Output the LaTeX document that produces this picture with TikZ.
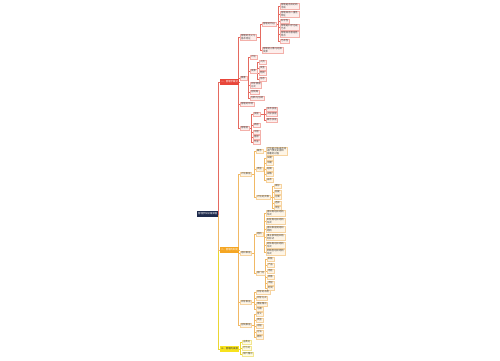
\documentclass[tikz,border=0pt]{standalone}
\usepackage{fontspec}
\setmainfont{Noto Sans CJK SC}
\usepackage{tikz}
\usetikzlibrary{calc}
\pgfdeclarelayer{background}
\pgfsetlayers{background,main}

\definecolor{navy}{HTML}{1E2B4D}
\definecolor{redmain}{HTML}{E8463A}
\definecolor{redline}{HTML}{E56A60}
\definecolor{redfill}{HTML}{FDEEEC}
\definecolor{rededge}{HTML}{F3B0AA}
\definecolor{orgmain}{HTML}{F5A623}
\definecolor{orgline}{HTML}{F1B965}
\definecolor{orgfill}{HTML}{FEF5E6}
\definecolor{orgedge}{HTML}{F6D3A0}
\definecolor{ylwmain}{HTML}{F7E21E}
\definecolor{ylwline}{HTML}{EBD634}
\definecolor{ylwfill}{HTML}{FFFCE3}
\definecolor{ylwedge}{HTML}{F2E690}

\tikzstyle{box}     = [anchor=west, inner xsep=0.9pt, inner ysep=0.5pt, minimum height=4.6pt,
                       align=left, font=\fontsize{2.4pt}{2.7pt}\selectfont, text=black!75]
\tikzstyle{rootbox} = [box, fill=navy, text=white, minimum height=6pt]
\tikzstyle{redbox}  = [box, fill=redmain, text=white, minimum height=5.5pt]
\tikzstyle{orgbox}  = [box, fill=orgmain, text=white, minimum height=5.5pt]
\tikzstyle{ylwbox}  = [box, fill=ylwmain, text=black!80, minimum height=5.5pt]
\tikzstyle{redleaf} = [box, draw=rededge, fill=redfill, line width=0.3pt]
\tikzstyle{orgleaf} = [box, draw=orgedge, fill=orgfill, line width=0.3pt]
\tikzstyle{ylwleaf} = [box, draw=ylwedge, fill=ylwfill, line width=0.3pt]
\tikzstyle{redlink} = [draw=redline, line width=0.4pt]
\tikzstyle{orglink} = [draw=orgline, line width=0.4pt]
\tikzstyle{ylwlink} = [draw=ylwline, line width=0.4pt]

% elbow from parent to child, kept behind the boxes
\newcommand{\branchlink}[3]{%
  \begin{pgfonlayer}{background}
    \draw[#1] (#2.east) -| ([xshift=-1.5pt]#3.west) -- (#3.west);
  \end{pgfonlayer}}

\begin{document}
\begin{tikzpicture}[x=1pt, y=-1pt]
  \useasboundingbox (0,0) rectangle (500,360);

  % centre
  \node[rootbox] (root) at (197,214) {管理学知识框架图};

  % third branch
  \node[ylwbox] (three) at (220,349) {三、管理的发展};
  \branchlink{ylwlink}{root}{three}
  \foreach \y/\t [count=\i] in {342/古典论, 348/行为论, 354/现代理论} {
    \node[ylwleaf] (three\i) at (242,\y) {\t};
    \branchlink{ylwlink}{three}{three\i}
  }

  % second branch
  \node[orgbox] (two) at (220,250) {二、管理的职能};
  \branchlink{orglink}{root}{two}
  \node[orgleaf] (plan) at (240,174) {计划职能};
  \node[orgleaf] (org) at (240,253) {组织职能};
  \node[orgleaf] (lead) at (240,302) {领导职能};
  \node[orgleaf] (ctrl) at (240,325) {控制职能};
  \foreach \n in {plan,org,lead,ctrl} {\branchlink{orglink}{two}{\n}}

  \node[orgleaf] (plana) at (256,151) {概念};
  \node[orgleaf] (planb) at (256,169) {类型};
  \node[orgleaf] (planc) at (256,197) {计划的步骤};
  \foreach \n in {plana,planb,planc} {\branchlink{orglink}{plan}{\n}}
  \node[orgleaf] (plana1) at (266,151) {计划是对未来活动\\进行预先安排和\\部署的过程};
  \branchlink{orglink}{plana}{plana1}
  \foreach \y/\t [count=\i] in {158/长期, 163/中期, 169/短期, 174/战略, 180/战术} {
    \node[orgleaf] (planb\i) at (266,\y) {\t};
    \branchlink{orglink}{planb}{planb\i}
  }
  \foreach \y/\t [count=\i] in {186/目标, 192/前提, 197/方案, 203/选择, 208/派生} {
    \node[orgleaf] (planc\i) at (274,\y) {\t};
    \branchlink{orglink}{planc}{planc\i}
  }

  \node[orgleaf] (orga) at (256,234) {结构};
  \node[orgleaf] (orgb) at (256,273) {部门化};
  \foreach \n in {orga,orgb} {\branchlink{orglink}{org}{\n}}
  \foreach \y/\t [count=\i] in {213/{直线制组织结构\\形式}, 221/{职能制组织结构\\形式},
      229/{直线职能制组织\\结构}, 237/{事业部制组织结\\构形式}, 245/{矩阵制组织结构\\形式},
      252/{网络型组织结构\\形式}} {
    \node[orgleaf] (orga\i) at (266,\y) {\t};
    \branchlink{orglink}{orga}{orga\i}
  }
  \foreach \y/\t [count=\i] in {259/职能, 265/产品, 271/地区, 277/顾客, 283/流程, 288/时间} {
    \node[orgleaf] (orgb\i) at (267,\y) {\t};
    \branchlink{orglink}{orgb}{orgb\i}
  }
  \foreach \y/\t [count=\i] in {292/领导的本质, 298/领导方式, 304/激励理论, 309/沟通} {
    \node[orgleaf] (lead\i) at (256,\y) {\t};
    \branchlink{orglink}{lead}{lead\i}
  }
  \foreach \y/\t [count=\i] in {314/含义, 320/类型, 326/过程, 332/方法, 337/原则} {
    \node[orgleaf] (ctrl\i) at (256,\y) {\t};
    \branchlink{orglink}{ctrl}{ctrl\i}
  }

  % first branch
  \node[redbox] (one) at (220,82) {一、管理学概述};
  \branchlink{redlink}{root}{one}
  \node[redleaf] (def) at (240,37) {管理的含义与\\基本特征};
  \node[redleaf] (key) at (240,78) {要素};
  \node[redleaf] (env) at (240,104) {管理的环境};
  \node[redleaf] (mgr) at (240,128) {管理者};
  \foreach \n in {def,key,env,mgr} {\branchlink{redlink}{one}{\n}}

  \node[redleaf] (feat) at (262,24) {管理的特征};
  \node[redleaf] (obj) at (262,50) {管理的对象与组织\\资源};
  \foreach \n in {feat,obj} {\branchlink{redlink}{def}{\n}}
  \foreach \y/\t [count=\i] in {6/{管理是有目的的\\活动}, 14/{管理具有二重性\\特征}, 21/科学性,
      27/{管理是科学也是\\艺术}, 34/{管理具有普遍性\\特点}, 41/艺术性} {
    \node[redleaf] (feat\i) at (280,\y) {\t};
    \branchlink{redlink}{feat}{feat\i}
  }

  \foreach \y/\t [count=\i] in {57/计划, 71/资源, 85/{领导激励\\方式}, 92/控制等, 98/创新与协调} {
    \node[redleaf] (key\i) at (250,\y) {\t};
    \branchlink{redlink}{key}{key\i}
  }
  \foreach \y/\t [count=\i] in {62/人员, 68/资金, 73/物资, 79/信息} {
    \node[redleaf] (res\i) at (259,\y) {\t};
    \branchlink{redlink}{key2}{res\i}
  }

  \foreach \y/\t [count=\i] in {114/技能, 125/高层, 132/中层, 137/基层, 142/作业} {
    \node[redleaf] (mgr\i) at (253,\y) {\t};
    \branchlink{redlink}{mgr}{mgr\i}
  }
  \foreach \y/\t [count=\i] in {109/技术技能, 114/人际技能, 120/概念技能} {
    \node[redleaf] (skill\i) at (266,\y) {\t};
    \branchlink{redlink}{mgr1}{skill\i}
  }
\end{tikzpicture}
\end{document}
